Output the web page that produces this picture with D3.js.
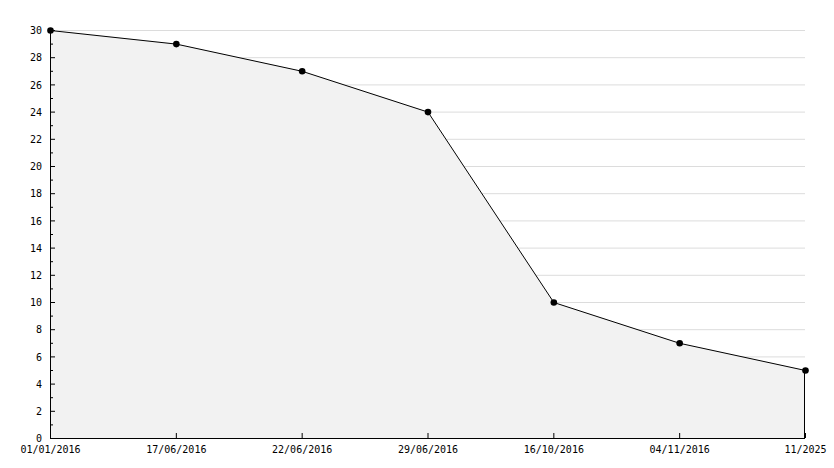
<!DOCTYPE html>
<html><head><meta charset="utf-8">
<script src="https://cdn.jsdelivr.net/npm/d3@7"></script>
<style>body{margin:0;background:#fff}svg{display:block}</style>
</head><body><svg id="c" width="834" height="468"></svg>
<script>
const categories = ["01/01/2016","17/06/2016","22/06/2016","29/06/2016","16/10/2016","04/11/2016","11/2025"];
const values = [30, 29, 27, 24, 10, 7, 5];
const yTicks = [0,2,4,6,8,10,12,14,16,18,20,22,24,26,28,30];

const svg = d3.select("#c");
const L = 50, R = 805, T = 30, B = 438;
const x = d3.scalePoint().domain(categories).range([L, R]);
const y = d3.scaleLinear().domain([0, 30]).range([B, T]);
const font = "'DejaVu Sans Mono', monospace";

// grid
svg.append("g").selectAll("line").data(yTicks.filter(d => d > 0)).join("line")
  .attr("x1", L).attr("x2", R).attr("y1", d => y(d) + 0.5).attr("y2", d => y(d) + 0.5)
  .attr("stroke", "#dcdcdc").attr("stroke-width", 1);

// area
const data = categories.map((c, i) => ({c, v: values[i]}));
svg.append("path").datum(data)
  .attr("d", d3.area().x(d => x(d.c)).y0(B).y1(d => y(d.v)))
  .attr("fill", "#f2f2f2");
svg.append("path").datum(data)
  .attr("d", d3.line().x(d => x(d.c) + 0.5).y(d => y(d.v) + 0.5))
  .attr("fill", "none").attr("stroke", "#000").attr("stroke-width", 1);
// right edge vertical
svg.append("line").attr("x1", x(categories[categories.length-1]) - 0.5).attr("x2", x(categories[categories.length-1]) - 0.5)
  .attr("y1", y(values[values.length-1])).attr("y2", B).attr("stroke", "#000");

// y axis
const yAxis = d3.axisLeft(y).tickValues(yTicks).tickSize(0).tickPadding(8);
const gy = svg.append("g").attr("transform", `translate(${L},0.5)`).call(yAxis);
gy.select(".domain").remove();
gy.selectAll("text").attr("font-family", font).attr("font-size", 10).attr("fill", "#000");
// major / minor ticks on y (pointing right)
const yMinor = d3.range(1, 30, 2);
svg.append("g").selectAll("line").data(yTicks).join("line")
  .attr("x1", L).attr("x2", L + 5).attr("y1", d => y(d) + 0.5).attr("y2", d => y(d) + 0.5).attr("stroke", "#000");
svg.append("g").selectAll("line").data(yMinor).join("line")
  .attr("x1", L).attr("x2", L + 3).attr("y1", d => y(d) + 0.5).attr("y2", d => y(d) + 0.5).attr("stroke", "#000");
svg.append("line").attr("x1", L + 0.5).attr("x2", L + 0.5).attr("y1", T).attr("y2", B + 1).attr("stroke", "#000");

// x axis
const xAxis = d3.axisBottom(x).tickSize(0).tickPadding(8);
const gx = svg.append("g").attr("transform", `translate(0,${B})`).call(xAxis);
gx.select(".domain").remove();
gx.selectAll("text").attr("font-family", font).attr("font-size", 10).attr("fill", "#000");
svg.append("g").selectAll("line").data(categories).join("line")
  .attr("x1", d => x(d) + 0.5).attr("x2", d => x(d) + 0.5).attr("y1", B).attr("y2", B - 5).attr("stroke", "#000");
svg.append("line").attr("x1", L).attr("x2", R).attr("y1", B + 0.5).attr("y2", B + 0.5).attr("stroke", "#000");

// markers
svg.append("g").selectAll("circle").data(data).join("circle")
  .attr("cx", d => x(d.c) + 0.5).attr("cy", d => y(d.v) + 0.5).attr("r", 3.3).attr("fill", "#000");
</script></body></html>
